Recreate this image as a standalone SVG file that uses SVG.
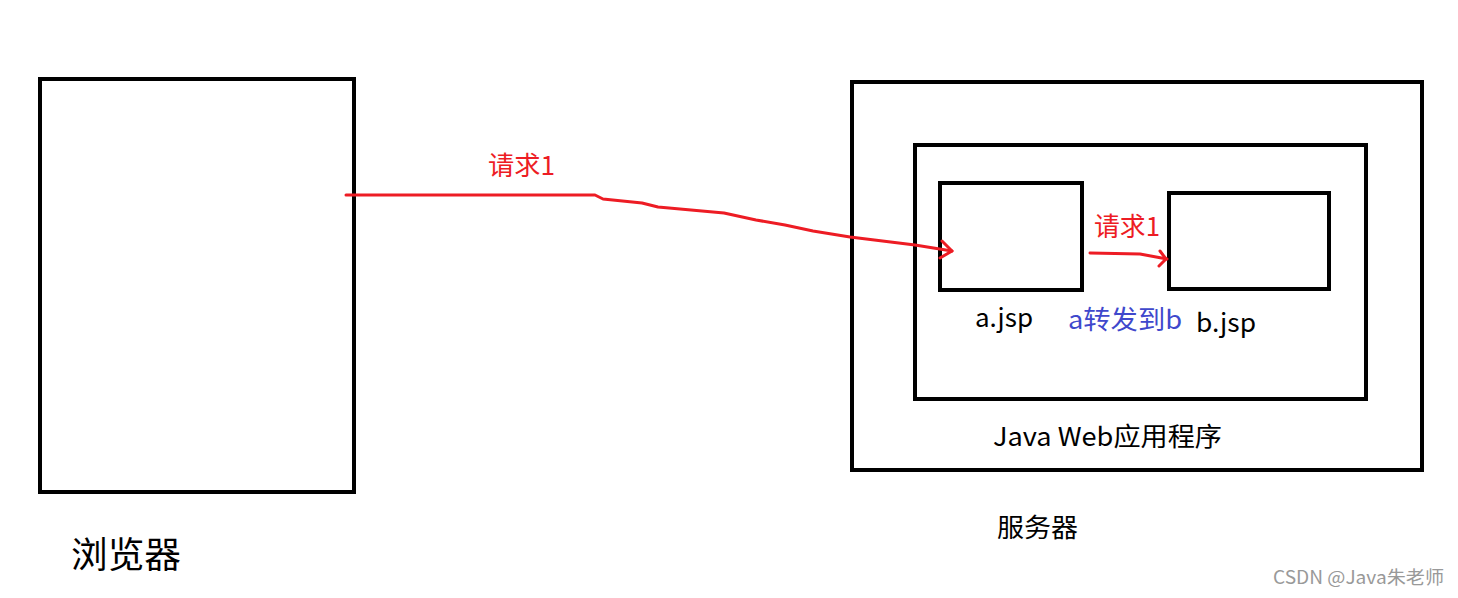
<svg xmlns="http://www.w3.org/2000/svg" width="1458" height="598" viewBox="0 0 1458 598">
<style>
.box{fill:none;stroke:#000;stroke-width:4}
.t{font-family:"Microsoft YaHei","Noto Sans CJK SC","Noto Sans",sans-serif;fill:#000}
.red{fill:#ed1c24}
.blue{fill:#3f48cc}
.wire{fill:none;stroke:#ed1c24;stroke-width:3;stroke-linecap:round;stroke-linejoin:round}
</style>
<rect width="1458" height="598" fill="#fff"/>
<g id="browser">
<rect class="box" x="40" y="79" width="314" height="413"/>
<text class="t" x="71" y="568" font-size="36" textLength="110" lengthAdjust="spacingAndGlyphs">浏览器</text>
</g>
<g id="server">
<rect class="box" x="852" y="82" width="570" height="388"/>
<text class="t" x="997" y="537" font-size="26" textLength="81" lengthAdjust="spacingAndGlyphs">服务器</text>
</g>
<g id="webapp">
<rect class="box" x="915" y="145" width="451" height="254"/>
<text class="t" x="993" y="446" font-size="26" textLength="229" lengthAdjust="spacingAndGlyphs">Java Web应用程序</text>
</g>
<g id="a-jsp">
<rect class="box" x="940" y="183" width="142" height="107"/>
<text class="t" x="975" y="327" font-size="26" textLength="58" lengthAdjust="spacingAndGlyphs">a.jsp</text>
</g>
<g id="b-jsp">
<rect class="box" x="1169" y="193" width="160" height="96"/>
<text class="t" x="1196" y="332" font-size="26" textLength="60" lengthAdjust="spacingAndGlyphs">b.jsp</text>
</g>
<g id="connectors">
<path class="wire" d="M346,195 L595,195 L603,199 L642,203 L658,207 L724,213 L756,220 L785,225 L813,231 L850,237 L915,245 L952,251"/>
<path class="wire" d="M942,241 L952,251 L940,258"/>
<text class="t red" x="488" y="175" font-size="26" textLength="67" lengthAdjust="spacingAndGlyphs">请求1</text>
<path class="wire" d="M1090,253 L1140,254 L1167,259"/>
<path class="wire" d="M1160,251 L1166,259 L1159,266"/>
<text class="t red" x="1094" y="236" font-size="26" textLength="66" lengthAdjust="spacingAndGlyphs">请求1</text>
<text class="t blue" x="1068" y="329" font-size="26" textLength="114" lengthAdjust="spacingAndGlyphs">a转发到b</text>
</g>
<text class="t" x="1273" y="584" font-size="18" style="fill:#999" textLength="171" lengthAdjust="spacingAndGlyphs">CSDN @Java朱老师</text>
</svg>
